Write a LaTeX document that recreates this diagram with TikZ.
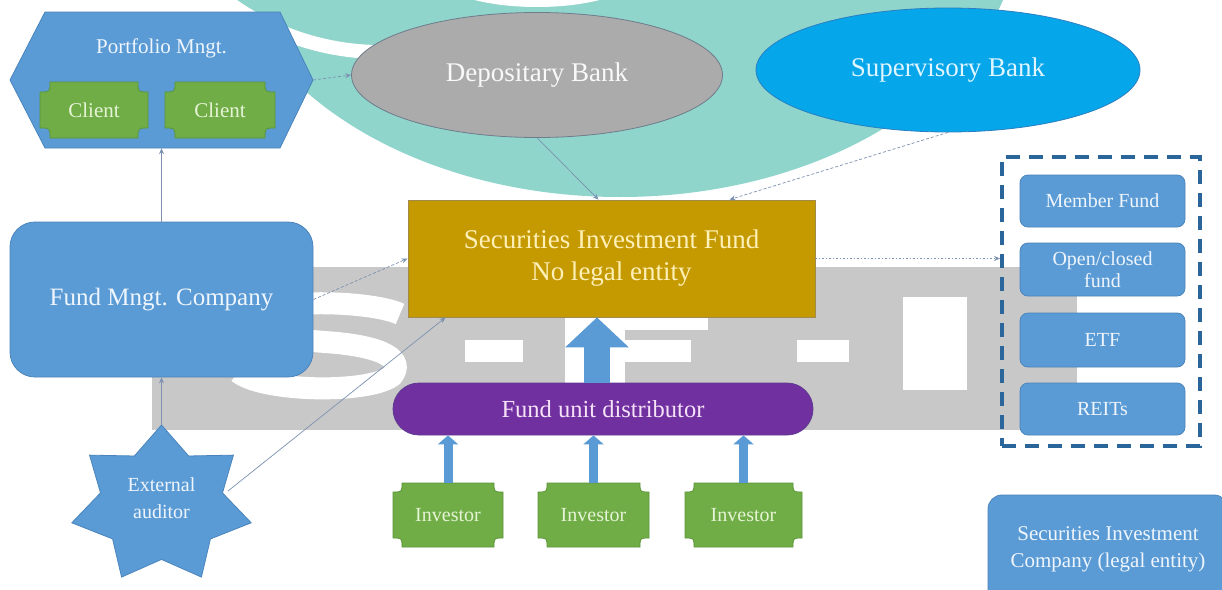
\documentclass[tikz,border=0pt]{standalone}
\usepackage{fontspec}
\setmainfont{Liberation Serif}
\usetikzlibrary{shapes.geometric,arrows.meta}
\definecolor{boxblue}{HTML}{5B9BD5}
\definecolor{boxblueb}{HTML}{4A84BC}
\definecolor{paleblue}{HTML}{EEF5FC}
\definecolor{grn}{HTML}{70AD47}
\definecolor{grnb}{HTML}{5C9538}
\definecolor{palegrn}{HTML}{E6F4D6}
\definecolor{gold}{HTML}{C49A00}
\definecolor{goldb}{HTML}{A08A50}
\definecolor{palegold}{HTML}{FFF0B8}
\definecolor{purp}{HTML}{7030A0}
\definecolor{purpb}{HTML}{5E3A90}
\definecolor{palepurp}{HTML}{F5E2F7}
\definecolor{depgray}{HTML}{ABABAB}
\definecolor{depb}{HTML}{6E7C8C}
\definecolor{supblue}{HTML}{05A6EA}
\definecolor{supb}{HTML}{2B7FC0}
\definecolor{palecyan}{HTML}{DFF5FF}
\definecolor{wmteal}{HTML}{8FD5CC}
\definecolor{band}{HTML}{C8C8C8}
\definecolor{conncol}{HTML}{7C92B0}
\definecolor{grpblue}{HTML}{2A6699}
\definecolor{arrowblue}{HTML}{5B9BD5}
\newcommand\plaque[6]{\path[#6] (#1+#5,#2) -- (#3-#5,#2) .. controls (#3-#5,#2+#5) .. (#3,#2+#5) -- (#3,#4-#5) .. controls (#3-#5,#4-#5) .. (#3-#5,#4) -- (#1+#5,#4) .. controls (#1+#5,#4-#5) .. (#1,#4-#5) -- (#1,#2+#5) .. controls (#1+#5,#2+#5) .. (#1+#5,#2) -- cycle;}
\begin{document}
\begin{tikzpicture}[x=1pt,y=-1pt,
  conn/.style={draw=conncol,line width=0.7pt,-{Stealth[length=6pt,width=5pt]}},
  conndash/.style={conn,dash pattern=on 3pt off 2pt},
  bluebox/.style={rectangle,rounded corners=8pt,fill=boxblue,draw=boxblueb,line width=0.8pt,text=paleblue,font=\fontsize{20}{23}\selectfont,align=center,inner sep=0pt},
  plaquetxt/.style={rectangle,inner sep=0pt,text=palegrn},
  plaquefill/.style={fill=grn,draw=grnb,line width=0.8pt},
  fatarrow/.style={draw=arrowblue,line width=#1}
]
\clip (0,0) rectangle (1222,589);
\fill[white] (0,0) rectangle (1222,589);
% watermark background
\fill[wmteal] (620,-80) ellipse [x radius=400, y radius=277];
\draw[white,line width=14pt] (215,-8) .. controls (260,30) and (320,52) .. (380,52);
\fill[white] (537,-25) ellipse [x radius=100, y radius=32];
\fill[band] (152,267) rectangle (1077,430);
\draw[white,line width=22pt,line cap=butt] (400,314) .. controls (370,300) and (262,298) .. (248,318) .. controls (238,336) and (300,340) .. (325,342) .. controls (385,346) and (405,360) .. (392,376) .. controls (368,394) and (262,392) .. (238,372);
\fill[white] (465,340) rectangle (523,362);
\fill[white] (565,295) rectangle (625,390);
\fill[white] (565,295) rectangle (708,330);
\fill[white] (565,340) rectangle (691,362);
\fill[white] (797,340) rectangle (849,362);
\fill[white] (903,297) rectangle (967,390);

% Portfolio management hexagon
\filldraw[fill=boxblue,draw=boxblueb,line width=0.8pt] (45,12) -- (280,12) -- (313,80) -- (280,148) -- (45,148) -- (10,80) -- cycle;
\node[rectangle,minimum width=303,minimum height=136,inner sep=0pt] (pm) at (161.5,80) {};
\node[text=paleblue,font=\fontsize{21}{25}\selectfont] (pmt) at (161.5,48) {Portfolio Mngt.};
\plaque{40}{82}{148}{138}{10}{plaquefill}
\node[plaquetxt,minimum width=108,minimum height=56,font=\fontsize{21}{25}\selectfont] (c1) at (94,110) {Client};
\plaque{165}{82}{275}{138}{10}{plaquefill}
\node[plaquetxt,minimum width=110,minimum height=56,font=\fontsize{21}{25}\selectfont] (c2) at (220,110) {Client};

% banks
\node[ellipse,fill=depgray,draw=depb,line width=0.8pt,minimum width=371,minimum height=125,text=white!95!gray,font=\fontsize{27}{32}\selectfont] (dep) at (537,75) {Depositary Bank};
\node[ellipse,fill=supblue,draw=supb,line width=0.8pt,minimum width=384,minimum height=124,text=palecyan,font=\fontsize{27}{32}\selectfont] (sup) at (948,70) {Supervisory Bank};

% fund
\node[rectangle,fill=gold,draw=goldb,line width=0.8pt,minimum width=407,minimum height=117,text=palegold,align=center,font=\fontsize{27}{32}\selectfont] (fund) at (611.5,258.5) {Securities Investment Fund\\No legal entity};

% distributor
\node[rectangle,rounded corners=26pt,fill=purp,draw=purpb,line width=0.8pt,minimum width=420,minimum height=52,text=palepurp,font=\fontsize{24.5}{29}\selectfont] (dist) at (603,409) {Fund unit distributor};

% fund management company
\node[bluebox,rounded corners=25pt,minimum width=303,minimum height=155,font=\fontsize{25}{30}\selectfont] (fmc) at (161.5,299.5) {Fund Mngt. Company};

% external auditor star
\filldraw[fill=boxblue,draw=boxblueb,line width=0.8pt] (161.5,425) \foreach \i in {1,...,7} { -- ({161.5+92*0.68*cos(90+(2*\i-1)*180/7)},{505-80*0.68*sin(90+(2*\i-1)*180/7)}) -- ({161.5+92*cos(90+\i*360/7)},{505-80*sin(90+\i*360/7)}) } -- cycle;
\coordinate (audtop) at (161.5,425);
\coordinate (audr) at (228,491);
\node[text=paleblue,align=center,font=\fontsize{20}{27}\selectfont] (aud) at (161.5,498) {External\\auditor};

% investors
\plaque{393}{483}{503}{547}{9}{plaquefill}
\node[plaquetxt,minimum width=110,minimum height=64,font=\fontsize{20}{24}\selectfont] (inv1) at (448,515) {Investor};
\plaque{538}{483}{649}{547}{9}{plaquefill}
\node[plaquetxt,minimum width=111,minimum height=64,font=\fontsize{20}{24}\selectfont] (inv2) at (593.5,515) {Investor};
\plaque{685}{483}{802}{547}{9}{plaquefill}
\node[plaquetxt,minimum width=117,minimum height=64,font=\fontsize{20}{24}\selectfont] (inv3) at (743.5,515) {Investor};

% fund types
\node[draw=grpblue,line width=4pt,dash pattern=on 14pt off 9pt,minimum width=198,minimum height=289,inner sep=0pt] (grp) at (1101,301.5) {};
\node[bluebox,minimum width=165,minimum height=52] (mf) at (1102.5,201) {Member Fund};
\node[bluebox,minimum width=165,minimum height=53,font=\fontsize{20}{22}\selectfont] (oc) at (1102.5,269.5) {Open/closed\\fund};
\node[bluebox,minimum width=165,minimum height=54] (etf) at (1102.5,340) {ETF};
\node[bluebox,minimum width=165,minimum height=52] (reit) at (1102.5,409) {REITs};

% securities investment company
\node[bluebox,rounded corners=14pt,minimum width=240,minimum height=108,font=\fontsize{21}{27}\selectfont] (sic) at (1108,549) {Securities Investment\\Company (legal entity)};

% big arrows
\coordinate (ax) at (597,0);
\draw[fatarrow=26pt,-{Triangle[width=62pt,length=30pt]}] (ax |- dist.north) -- (ax |- fund.south);
\draw[fatarrow=9pt,-{Triangle[width=20pt,length=9pt]}] (inv1.north) -- (inv1.north |- dist.south);
\draw[fatarrow=9pt,-{Triangle[width=20pt,length=9pt]}] (inv2.north) -- (inv2.north |- dist.south);
\draw[fatarrow=9pt,-{Triangle[width=20pt,length=9pt]}] (inv3.north) -- (inv3.north |- dist.south);

% connectors
\draw[conndash] (pm.east) -- (dep.west);
\draw[conn] (fmc.north) -- (pm.south);
\draw[conndash] (fmc.east) -- (fund.west);
\draw[conn] (audtop) -- (audtop |- fmc.south);
\draw[conn] (audr) -- ([xshift=38pt]fund.south west);
\draw[conn] (dep.south) -- ([xshift=-13pt]fund.north);
\draw[conndash] (sup.south) -- ([xshift=118pt]fund.north);
\draw[conn,dash pattern=on 1.5pt off 2pt] (fund.east) -- (fund.east -| grp.west);
\end{tikzpicture}
\end{document}
